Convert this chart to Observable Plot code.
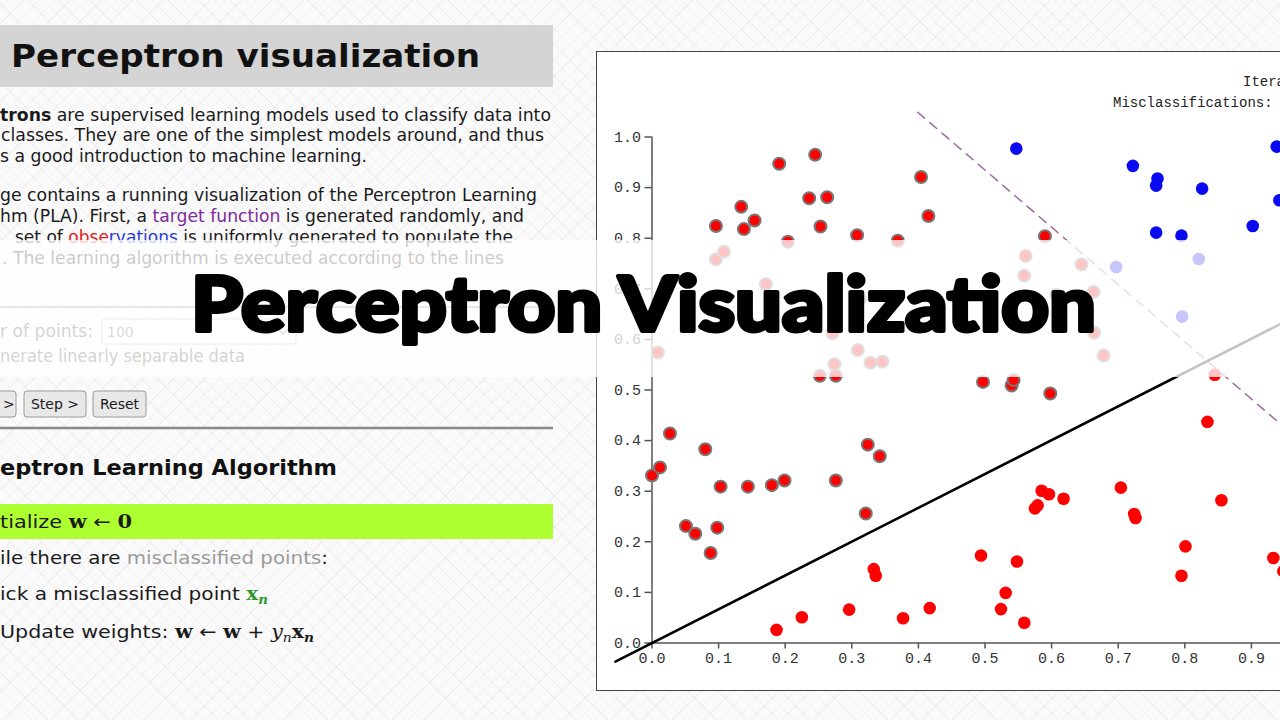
<!DOCTYPE html>
<html><head><meta charset="utf-8">
<script src="https://cdn.jsdelivr.net/npm/d3@7"></script>
<script src="https://cdn.jsdelivr.net/npm/@observablehq/plot@0.6"></script>
<style>
html,body{margin:0;padding:0;width:1280px;height:720px;overflow:hidden;}
body{position:relative;background-color:#fafafa;
background-image:repeating-linear-gradient(45deg,rgba(0,0,0,0.035) 0 1px,transparent 1px 11px),repeating-linear-gradient(-45deg,rgba(0,0,0,0.035) 0 1px,transparent 1px 11px);}
svg.layer{position:absolute;left:0;top:0;pointer-events:none;}
#box{position:absolute;left:596px;top:51px;width:760px;height:637.5px;border:1.5px solid #444;background:#fff;overflow:hidden;}
#box svg{position:absolute;left:0;top:0;}
</style></head>
<body>
<svg class="layer" width="1280" height="720" font-family="DejaVu Sans, Verdana, sans-serif" fill="#1a1a1a">
  <rect x="0" y="25" width="553" height="62" fill="#d4d4d4"/>
  <text x="11" y="67" font-size="32" font-weight="bold" textLength="469" lengthAdjust="spacingAndGlyphs" fill="#111">Perceptron visualization</text>
  <g font-size="17">
    <text x="0" y="121" textLength="551" lengthAdjust="spacingAndGlyphs"><tspan font-weight="bold">trons</tspan> are supervised learning models used to classify data into</text>
    <text x="1" y="141" textLength="543" lengthAdjust="spacingAndGlyphs">classes. They are one of the simplest models around, and thus</text>
    <text x="0" y="162" textLength="367" lengthAdjust="spacingAndGlyphs">s a good introduction to machine learning.</text>
    <text x="0" y="201" textLength="537" lengthAdjust="spacingAndGlyphs">ge contains a running visualization of the Perceptron Learning</text>
    <text x="0" y="222" textLength="524" lengthAdjust="spacingAndGlyphs">hm (PLA). First, a <tspan fill="#7d2a9a">target function</tspan> is generated randomly, and</text>
    <text x="15" y="243" textLength="498" lengthAdjust="spacingAndGlyphs">set of <tspan fill="#e02020">obse</tspan><tspan fill="#2a3ad8">rvations</tspan> is uniformly generated to populate the</text>
    <text x="2" y="264" textLength="502" lengthAdjust="spacingAndGlyphs">. The learning algorithm is executed according to the lines</text>
  </g>
  <line x1="0" x2="553" y1="307" y2="307" stroke="#9a9a9a" stroke-width="2"/>
  <g font-size="17">
    <text x="0" y="337" textLength="93" lengthAdjust="spacingAndGlyphs" fill="#444">r of points:</text>
    <rect x="102" y="319" width="194" height="25" fill="#fff" stroke="#aaa" rx="2"/>
    <text x="107" y="337" font-size="14" fill="#555">100</text>
    <path d="M278,329 l5,5 l5,-5" fill="none" stroke="#777" stroke-width="1.5"/>
    <text x="0" y="362" textLength="245" lengthAdjust="spacingAndGlyphs" fill="#444">nerate linearly separable data</text>
  </g>
  <g font-size="14">
    <rect x="-40" y="391" width="56" height="26" rx="3" fill="#e8e8e8" stroke="#9a9a9a"/>
    <text x="3" y="409">&gt;</text>
    <rect x="24" y="391" width="62" height="26" rx="3" fill="#e8e8e8" stroke="#9a9a9a"/>
    <text x="55" y="409" text-anchor="middle">Step &gt;</text>
    <rect x="93" y="391" width="53" height="26" rx="3" fill="#e8e8e8" stroke="#9a9a9a"/>
    <text x="119.5" y="409" text-anchor="middle">Reset</text>
  </g>
  <line x1="0" x2="553" y1="428" y2="428" stroke="#888" stroke-width="2.5"/>
  <text x="0" y="475" font-size="22" font-weight="bold" textLength="337" lengthAdjust="spacingAndGlyphs" fill="#111">eptron Learning Algorithm</text>
  <rect x="0" y="504" width="553" height="35" fill="#adff2f"/>
  <g font-size="18">
    <text x="0" y="528" textLength="132" lengthAdjust="spacingAndGlyphs">tialize <tspan font-family="DejaVu Serif, serif" font-weight="bold">w</tspan> ← <tspan font-family="DejaVu Serif, serif" font-weight="bold">0</tspan></text>
    <text x="0" y="564" textLength="328" lengthAdjust="spacingAndGlyphs">ile there are <tspan fill="#9a9a9a">misclassified points</tspan>:</text>
    <text x="0" y="600" textLength="268" lengthAdjust="spacingAndGlyphs">ick a misclassified point <tspan fill="#2e9a2e" font-family="DejaVu Serif, serif" font-weight="bold">x<tspan font-size="12" dy="4" font-style="italic">n</tspan></tspan></text>
    <text x="0" y="638" textLength="314" lengthAdjust="spacingAndGlyphs">Update weights: <tspan font-family="DejaVu Serif, serif" font-weight="bold">w</tspan> ← <tspan font-family="DejaVu Serif, serif" font-weight="bold">w</tspan> + <tspan font-family="DejaVu Serif, serif" font-style="italic">y<tspan font-size="12" dy="4">n</tspan></tspan><tspan dy="-4" font-family="DejaVu Serif, serif" font-weight="bold">x<tspan font-size="12" dy="4" font-style="italic">n</tspan></tspan></text>
  </g>
</svg>
<div id="box"></div>
<svg class="layer" id="top" width="1280" height="720">
  <g font-family="Liberation Mono, DejaVu Sans Mono, monospace" font-size="14" fill="#222">
    <text x="1243" y="86">Iterations: 0</text>
    <text x="1113" y="107">Misclassifications: 0</text>
  </g>
  <rect x="0" y="240" width="1280" height="137" fill="#fff" fill-opacity="0.77"/>
  <text x="191" y="331" font-family="Lato, Inter, sans-serif" font-weight="900" font-size="76" textLength="905" lengthAdjust="spacingAndGlyphs" fill="#000" stroke="#000" stroke-width="4" stroke-linejoin="round">Perceptron Visualization</text>
</svg>
<script>
// ---- data ----
const xTicks = [0, 0.1, 0.2, 0.3, 0.4, 0.5, 0.6, 0.7, 0.8, 0.9, 1.0];
const yTicks = [0, 0.1, 0.2, 0.3, 0.4, 0.5, 0.6, 0.7, 0.8, 0.9, 1.0];

// red points on the wrong side of the current hypothesis (grey ring)
const redMisX = [0.096,0.134,0.138,0.154,0.191,0.245,0.236,0.263,0.253,0.204,0.308,0.369,0.404,0.415,0.590,
  0.096,0.108,0.171,0.009,0.271,0.309,0.274,0.328,0.346,0.312,0.561,0.559,0.645,0.607,0.663,0.664,0.678,
  0.000,0.012,0.027,0.080,0.103,0.144,0.180,0.199,0.051,0.065,0.098,0.088,0.276,0.324,0.342,0.321,0.252,0.276,0.497,0.540,0.543,0.598];
const redMisY = [0.824,0.862,0.818,0.835,0.947,0.965,0.879,0.881,0.823,0.793,0.806,0.795,0.921,0.844,0.804,
  0.758,0.773,0.709,0.574,0.612,0.579,0.551,0.554,0.556,0.680,0.765,0.726,0.748,0.688,0.694,0.613,0.568,
  0.331,0.347,0.414,0.383,0.309,0.309,0.312,0.321,0.231,0.216,0.228,0.178,0.321,0.392,0.369,0.256,0.528,0.528,0.516,0.509,0.520,0.493];

// red points correctly classified
const redOkX = [0.187,0.225,0.296,0.333,0.336,0.377,0.417,0.494,0.524,0.531,0.548,0.559,0.575,0.579,0.585,0.596,0.618,0.704,0.724,0.726,0.801,0.795,0.834,0.855,0.933,0.845,0.948];
const redOkY = [0.026,0.051,0.066,0.146,0.133,0.049,0.069,0.173,0.067,0.099,0.161,0.040,0.266,0.272,0.301,0.294,0.285,0.307,0.255,0.247,0.191,0.133,0.437,0.282,0.168,0.530,0.142];

// blue points
const blueX = [0.547,0.722,0.759,0.757,0.826,0.938,0.942,0.757,0.795,0.902,0.697,0.821,0.796];
const blueY = [0.977,0.943,0.918,0.904,0.898,0.981,0.875,0.811,0.805,0.824,0.743,0.759,0.645];

// current hypothesis (solid) and target function (dashed), as end points
const hypX = [-0.055, 1.1];
const hypY = [-0.037, 0.735];
const tgtX = [0.399, 1.1];
const tgtY = [1.049, 0.256];

const pts = (xs, ys) => xs.map((x, i) => ({x, y: ys[i]}));
const fmt = d3.format(".1f");

const chart = Plot.plot({
  width: 741, height: 637.5,
  marginLeft: 54.5, marginRight: 20.5, marginTop: 84.5, marginBottom: 47,
  x: {domain: [0, 1]},
  y: {domain: [0, 1]},
  style: {background: "transparent", fontFamily: "Liberation Mono, DejaVu Sans Mono, monospace", fontSize: "15px", color: "#333", overflow: "visible"},
  marks: [
    Plot.axisX({ticks: xTicks, tickFormat: fmt, tickSize: 6, tickPadding: 3, stroke: "#555", strokeWidth: 1.5, label: null}),
    Plot.axisY({ticks: yTicks, tickFormat: fmt, tickSize: 7, tickPadding: 4, stroke: "#555", strokeWidth: 1.5, label: null}),
    Plot.ruleX([0], {y1: 0, y2: 1, stroke: "#555", strokeWidth: 1.5}),
    Plot.ruleY([0], {x1: 0, x2: 1.2, stroke: "#555", strokeWidth: 1.5}),
    Plot.line(pts(tgtX, tgtY), {x: "x", y: "y", stroke: "#9a6c9e", strokeWidth: 1.5, strokeDasharray: "9,7"}),
    Plot.line(pts(hypX, hypY), {x: "x", y: "y", stroke: "#000", strokeWidth: 2.5}),
    Plot.dot(pts(redOkX, redOkY), {x: "x", y: "y", r: 6.3, fill: "#ff0000"}),
    Plot.dot(pts(blueX, blueY), {x: "x", y: "y", r: 6.3, fill: "#0a0af0"}),
    Plot.dot(pts(redMisX, redMisY), {x: "x", y: "y", r: 6, fill: "#ff0000", stroke: "#787878", strokeWidth: 2})
  ]
});
document.getElementById("box").appendChild(chart);
</script>
</body></html>
